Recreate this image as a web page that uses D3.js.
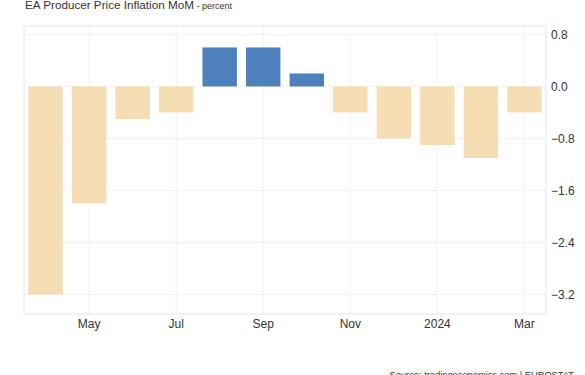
<!DOCTYPE html>
<html><head><meta charset="utf-8">
<script src="https://cdn.jsdelivr.net/npm/d3@7/dist/d3.min.js"></script>
<style>body{margin:0;background:#fff;} svg{display:block;font-family:"Liberation Sans",Arial,sans-serif;}</style>
</head><body>
<script>
const months = ["2023-04","2023-05","2023-06","2023-07","2023-08","2023-09","2023-10","2023-11","2023-12","2024-01","2024-02","2024-03"];
const values = [-3.2,-1.8,-0.5,-0.4,0.6,0.6,0.2,-0.4,-0.8,-0.9,-1.1,-0.4];
const xTickLabels = {"2023-05":"May","2023-07":"Jul","2023-09":"Sep","2023-11":"Nov","2024-01":"2024","2024-03":"Mar"};
const yTicks = [0.8,0.0,-0.8,-1.6,-2.4,-3.2];

const W=585,H=375, L=24, R=546, T=26, B=314;
const svg=d3.select("body").append("svg").attr("width",W).attr("height",H);
const x=d3.scaleBand().domain(months).range([L,R]).paddingInner(0.21).paddingOuter(0.1);
const y=d3.scaleLinear().domain([-3.5,0.93]).range([B,T]);

// grid
const g=svg.append("g");
g.selectAll(".hg").data(yTicks).join("line").attr("x1",L).attr("x2",R)
 .attr("y1",d=>y(d)).attr("y2",d=>y(d)).attr("stroke","#e6e6e6").attr("stroke-dasharray","1,1");
g.selectAll(".vg").data(Object.keys(xTickLabels)).join("line")
 .attr("x1",d=>x(d)+x.bandwidth()/2).attr("x2",d=>x(d)+x.bandwidth()/2)
 .attr("y1",T).attr("y2",B).attr("stroke","#e6e6e6").attr("stroke-dasharray","1,1");
svg.append("rect").attr("x",L).attr("y",T).attr("width",R-L).attr("height",B-T)
 .attr("fill","none").attr("stroke","#e6e6e6");

// bars
svg.selectAll(".bar").data(months).join("rect")
 .attr("x",d=>x(d)).attr("width",x.bandwidth())
 .attr("y",(d,i)=>y(Math.max(0,values[i])))
 .attr("height",(d,i)=>Math.abs(y(values[i])-y(0)))
 .attr("fill",(d,i)=>values[i]>=0?"#4d80bd":"#f5deb3");

// y axis
const ya=d3.axisRight(y).tickValues(yTicks).tickFormat(d3.format(".1f")).tickSize(0).tickPadding(4);
svg.append("g").attr("transform",`translate(${R+1},0)`).call(ya)
 .call(s=>s.select(".domain").remove())
 .selectAll("text").attr("font-size",12).attr("fill","#333").attr("font-family","Liberation Sans, Arial, sans-serif");

// x axis
const xa=d3.axisBottom(x).tickValues(Object.keys(xTickLabels)).tickFormat(d=>xTickLabels[d]).tickSize(0).tickPadding(5);
svg.append("g").attr("transform",`translate(0,${B})`).call(xa)
 .call(s=>s.select(".domain").remove())
 .selectAll("text").attr("font-size",12).attr("fill","#333").attr("font-family","Liberation Sans, Arial, sans-serif");

// title
const t=svg.append("text").attr("x",L+1).attr("y",8.5).attr("fill","#333").attr("font-size",11.7);
t.append("tspan").text("EA Producer Price Inflation MoM");
t.append("tspan").attr("font-size",9).text(" - percent");

svg.append("text").attr("x",574).attr("y",378).attr("text-anchor","end").attr("font-size",9.3).attr("fill","#333")
 .text("Source: tradingeconomics.com | EUROSTAT");
</script>
</body></html>
